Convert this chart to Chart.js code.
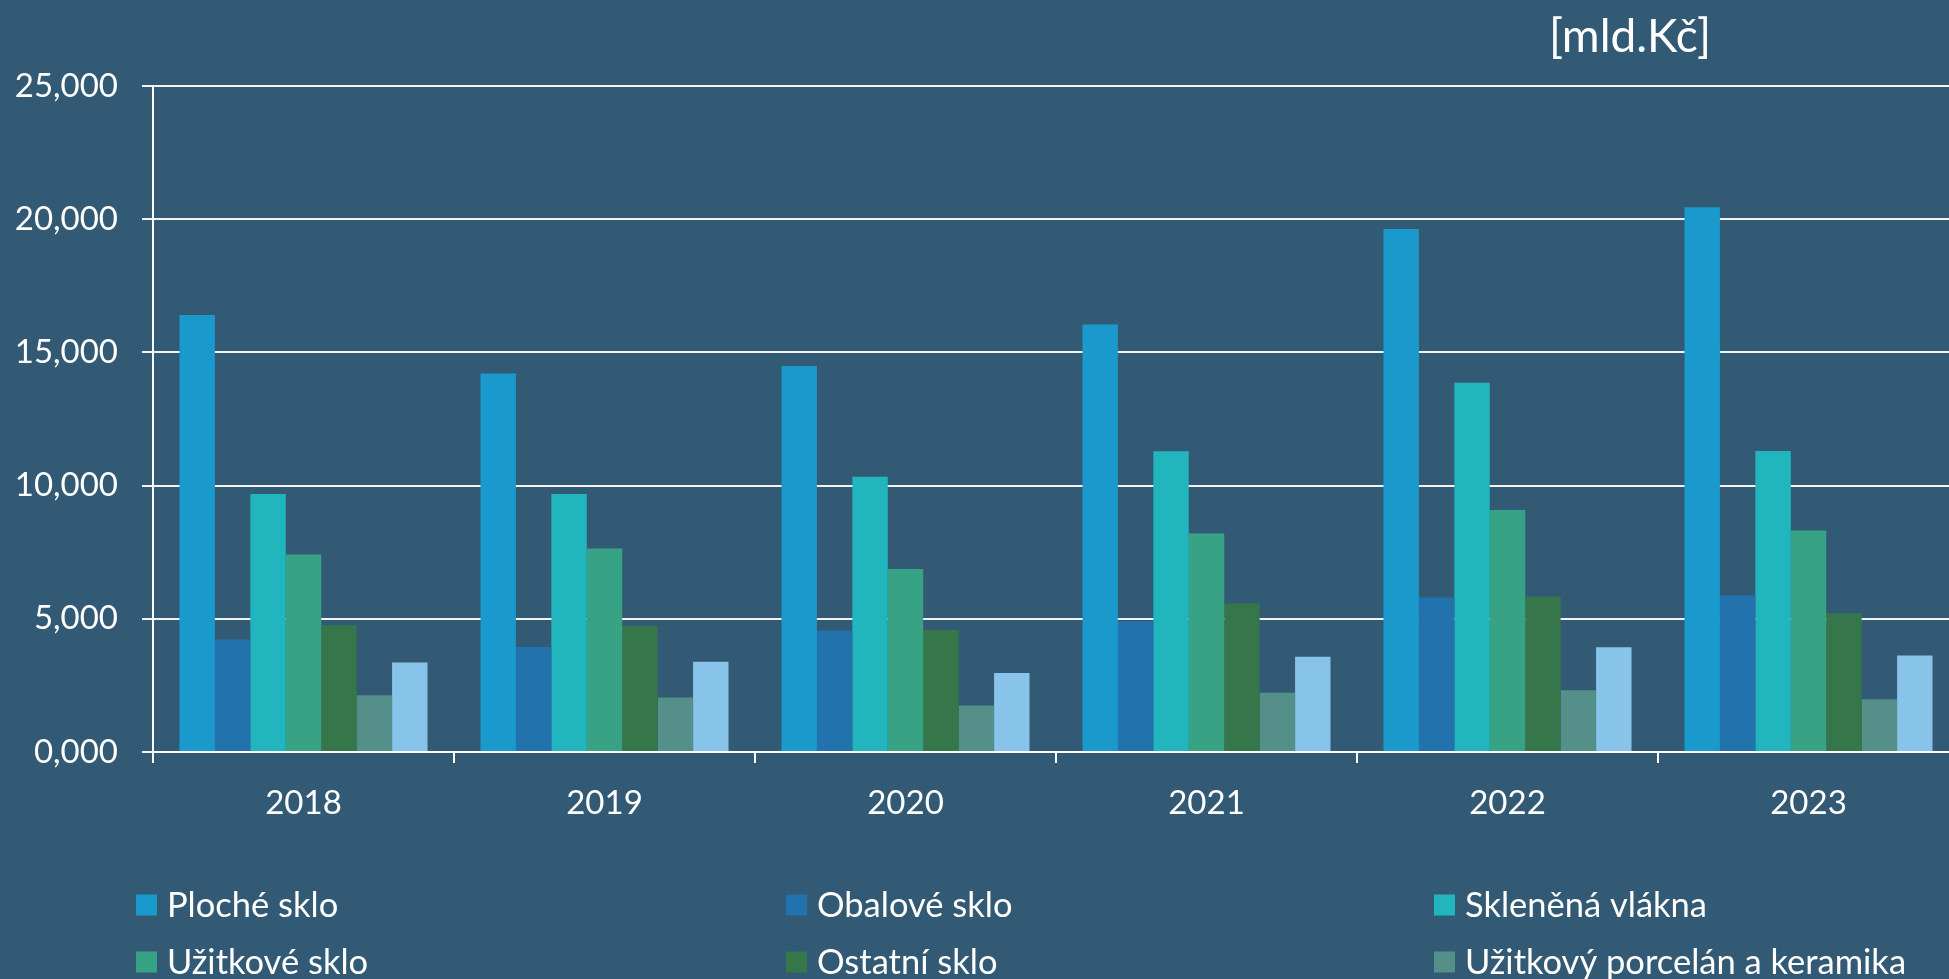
<!DOCTYPE html>
<html lang="cs">
<head>
<meta charset="UTF-8">
<title>Sklo a keramika</title>
<script src="https://cdn.jsdelivr.net/npm/chart.js"></script>
<style>
    html, body { margin: 0; padding: 0; overflow: hidden; background: #335a74; }
    .wrap { position: relative; width: 1959px; height: 979px; }
</style>
</head>
<body>
<div class="wrap"><canvas id="chart"></canvas></div>
<script>
const years = ['2018', '2019', '2020', '2021', '2022', '2023'];
const seriesNames = ['Ploché sklo', 'Obalové sklo', 'Skleněná vlákna', 'Užitkové sklo',
    'Ostatní sklo', 'Užitkový porcelán a keramika', 'Technická keramika'];
const colors = ['#1a9acc', '#2172ad', '#21b5bd', '#38a285', '#35774a', '#558f8a', '#88c3ea'];

const plocheSklo   = [16400, 14210, 14490, 16050, 19630, 20450];
const obaloveSklo  = [4220, 3940, 4560, 4910, 5800, 5870];
const sklenenaVl   = [9680, 9680, 10330, 11290, 13860, 11300];
const uzitkoveSklo = [7410, 7640, 6870, 8200, 9080, 8310];
const ostatniSklo  = [4760, 4730, 4580, 5570, 5840, 5210];
const porcelan     = [2130, 2050, 1750, 2220, 2320, 1980];
const technicka    = [3360, 3390, 2970, 3580, 3930, 3620];
const values = [plocheSklo, obaloveSklo, sklenenaVl, uzitkoveSklo, ostatniSklo, porcelan, technicka];

const unitLabel = '[mld.Kč]';
const FONT = 'Lato, "Open Sans", sans-serif';

// legend in 3 fixed columns + unit label top right
const extras = {
    id: 'extras',
    afterDraw(chart) {
        const ctx = chart.ctx;
        ctx.save();
        ctx.fillStyle = '#ffffff';
        ctx.font = '46px ' + FONT;
        ctx.textAlign = 'center';
        ctx.textBaseline = 'middle';
        ctx.fillText(unitLabel, 1630, 37);

        const cols = [136, 786, 1434];
        ctx.font = '34.5px ' + FONT;
        ctx.textAlign = 'left';
        chart.data.datasets.forEach((ds, i) => {
            const x = cols[i % 3];
            const y = 905 + Math.floor(i / 3) * 57;
            ctx.fillStyle = ds.backgroundColor;
            ctx.fillRect(x, y - 10.5, 21, 21);
            ctx.fillStyle = '#ffffff';
            ctx.fillText(ds.label, x + 31, y + 1);
        });
        ctx.restore();
    }
};

new Chart(document.getElementById('chart'), {
    type: 'bar',
    data: {
        labels: years,
        datasets: seriesNames.map((name, i) => ({
            label: name,
            data: values[i],
            backgroundColor: colors[i],
            borderWidth: 0,
            categoryPercentage: 0.824,
            barPercentage: 1.0
        }))
    },
    options: {
        responsive: true,
        maintainAspectRatio: false,
        animation: false,
        layout: { padding: { top: 86, left: 0, right: 0, bottom: 0 } },
        plugins: { legend: { display: false }, tooltip: { enabled: false } },
        scales: {
            x: {
                grid: { drawOnChartArea: false, drawTicks: true, tickLength: 11, color: '#ffffff', lineWidth: 2 },
                border: { display: true, color: '#ffffff', width: 2 },
                ticks: { color: '#ffffff', font: { family: FONT, size: 33 }, padding: 21 },
                afterFit(scale) { scale.height = 979 - 752; }
            },
            y: {
                min: 0, max: 25000,
                grid: { color: '#f2f2f2', lineWidth: 2, tickLength: 11, drawTicks: true },
                border: { display: true, color: '#ffffff', width: 2 },
                ticks: {
                    stepSize: 5000,
                    color: '#ffffff',
                    padding: 24,
                    font: { family: FONT, size: 33 },
                    callback: v => (v / 1000).toFixed(3).replace('.', ',')
                },
                afterFit(scale) { scale.width = 153; }
            }
        }
    },
    plugins: [extras]
});
</script>
</body>
</html>
